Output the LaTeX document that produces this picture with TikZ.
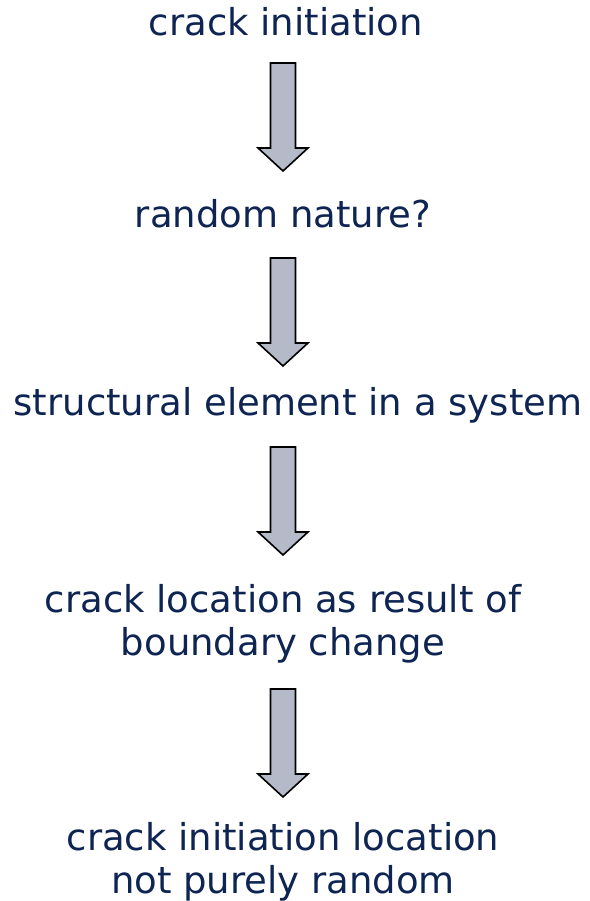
\documentclass[tikz,border=0pt]{standalone}
\usepackage{fontspec}
\setmainfont{DejaVu Sans}
\definecolor{txtblue}{RGB}{14,36,82}
\definecolor{arrowfill}{RGB}{180,186,200}
\tikzset{
  lbl/.style={text=txtblue, font=\fontsize{37}{43}\selectfont, align=center, anchor=base, inner sep=0pt},
  arrowstyle/.style={draw=black, line width=1.6pt, fill=arrowfill, line join=miter},
  blockarrow/.pic={\path[arrowstyle] (-12.5,0) -- (12.5,0) -- (12.5,85) -- (25,85) -- (0,108) -- (-25,85) -- (-12.5,85) -- cycle;}
}
\begin{document}
\begin{tikzpicture}[x=1pt,y=-1pt]
\useasboundingbox (0,0) rectangle (589,901);
\node[lbl] (t1) at (286,36) {crack initiation};
\node[lbl] (t2) at (283,228) {random nature?};
\node[lbl] (t3) at (298,415) {structural element in a system};
\node[lbl] (t4) at (283,655) {crack location as result of\\boundary change};
\node[lbl] (t5) at (283,893) {crack initiation location\\not purely random};
\pic at (283,63) {blockarrow};
\pic at (283,258) {blockarrow};
\pic at (283,447) {blockarrow};
\pic at (283,689) {blockarrow};
\end{tikzpicture}
\end{document}
